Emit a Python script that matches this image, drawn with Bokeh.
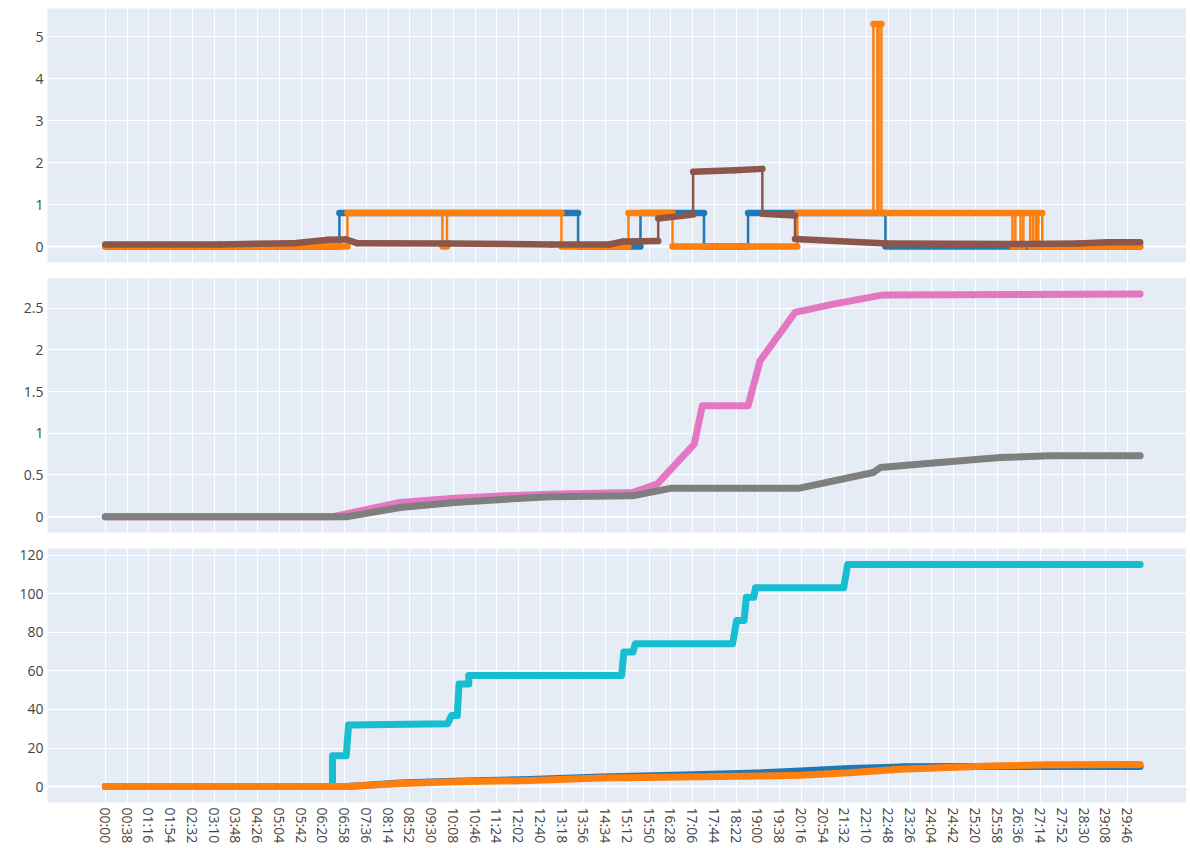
import math
from bokeh.plotting import figure
from bokeh.layouts import column
from bokeh.models import FixedTicker, Span, Range1d
from bokeh.embed import file_html
from bokeh.resources import INLINE

# ---------------- data ----------------
x_tick_labels = ["00:00", "00:38", "01:16", "01:54", "02:32", "03:10", "03:48", "04:26",
                 "05:04", "05:42", "06:20", "06:58", "07:36", "08:14", "08:52", "09:30",
                 "10:08", "10:46", "11:24", "12:02", "12:40", "13:18", "13:56", "14:34",
                 "15:12", "15:50", "16:28", "17:06", "17:44", "18:22", "19:00", "19:38",
                 "20:16", "20:54", "21:32", "22:10", "22:48", "23:26", "24:04", "24:42",
                 "25:20", "25:58", "26:36", "27:14", "27:52", "28:30", "29:08", "29:46"]

# panel 1 (seconds, value)
blue1_t = [0, 409, 409, 826, 826, 935, 935, 1046, 1046, 1123, 1123, 1363, 1363, 1808]
blue1_v = [0, 0, 0.8, 0.8, 0, 0, 0.8, 0.8, 0, 0, 0.8, 0.8, 0, 0]

orange1_t = [0, 423, 423, 589, 589, 597, 597, 797, 797, 914, 914, 991, 991, 1209, 1209,
             1342, 1342, 1349, 1349, 1351, 1351, 1356, 1356,
             1585, 1585, 1590, 1590, 1599, 1599, 1604, 1604, 1616, 1616, 1621, 1621,
             1626, 1626, 1630, 1630, 1637, 1637, 1808]
orange1_v = [0, 0, 0.8, 0.8, 0, 0, 0.8, 0.8, 0, 0, 0.8, 0.8, 0, 0, 0.8,
             0.8, 5.3, 5.3, 0.8, 0.8, 5.3, 5.3, 0.8,
             0.8, 0, 0, 0.8, 0.8, 0, 0, 0.8, 0.8, 0, 0, 0.8,
             0.8, 0, 0, 0.8, 0.8, 0, 0]

brown1_t = [0, 200, 330, 390, 420, 440, 600, 780, 880, 905, 966, 966, 1027, 1027, 1100,
            1148, 1148, 1205, 1205, 1366, 1600, 1700, 1751, 1808]
brown1_v = [0.05, 0.05, 0.08, 0.16, 0.17, 0.08, 0.07, 0.05, 0.05, 0.12, 0.13, 0.67, 0.76,
            1.78, 1.82, 1.85, 0.78, 0.74, 0.18, 0.07, 0.06, 0.07, 0.1, 0.1]

# panel 2
pink2_t = [0, 398, 515, 610, 700, 777, 921, 964, 1029, 1043, 1123, 1144, 1205, 1272, 1359, 1808]
pink2_v = [0, 0, 0.17, 0.22, 0.25, 0.27, 0.29, 0.39, 0.87, 1.33, 1.33, 1.87, 2.45, 2.55, 2.66, 2.67]

gray2_t = [0, 423, 515, 610, 700, 777, 921, 987, 1211, 1342, 1354, 1420, 1564, 1650, 1808]
gray2_v = [0, 0, 0.11, 0.17, 0.21, 0.24, 0.25, 0.34, 0.34, 0.53, 0.59, 0.63, 0.71, 0.73, 0.73]

# panel 3
cyan3_t = [0, 397, 397, 421, 425, 598, 605, 615, 618, 635, 635, 902, 906, 922, 926,
           1096, 1103, 1116, 1120, 1133, 1136, 1290, 1297, 1808]
cyan3_v = [0, 0, 16, 16, 32, 32.6, 36.9, 36.9, 53.3, 53.3, 57.7, 57.7, 69.8, 69.8, 74.2,
           74.2, 86.2, 86.2, 98.3, 98.3, 103.2, 103.2, 115.3, 115.3]

blue3_t = [0, 423, 515, 610, 742, 865, 1010, 1140, 1214, 1300, 1389, 1500, 1808]
blue3_v = [0, 0, 1.8, 2.8, 3.6, 5.0, 6.0, 7.0, 8.0, 9.4, 10.2, 10.4, 10.4]

orange3_t = [0, 423, 515, 610, 742, 865, 1010, 1140, 1214, 1300, 1389, 1546, 1650, 1808]
orange3_v = [0, 0, 1.6, 2.5, 3.1, 4.4, 5.0, 5.4, 5.9, 7.2, 9.0, 10.6, 11.3, 11.4]

y1_ticks = [0, 1, 2, 3, 4, 5]
y1_labels = ["0", "1", "2", "3", "4", "5"]
y2_ticks = [0, 0.5, 1, 1.5, 2, 2.5]
y2_labels = ["0", "0.5", "1", "1.5", "2", "2.5"]
y3_ticks = [0, 20, 40, 60, 80, 100, 120]
y3_labels = ["0", "20", "40", "60", "80", "100", "120"]

# ---------------- styling ----------------
BLUE, ORANGE, BROWN = "#1f77b4", "#ff7f0e", "#8c564b"
PINK, GRAY, CYAN = "#e377c2", "#7f7f7f", "#17becf"
FONT = "Open Sans"
TXT = "#444444"


def to_sec(s):
    m, sec = s.split(":")
    return int(m) * 60 + int(sec)


x_ticks = [to_sec(s) for s in x_tick_labels]


def make_fig(yr, yt, yl, show_x, top, bottom):
    p = figure(frame_width=1139, frame_height=254,
               x_range=Range1d(-101, 1889), y_range=Range1d(*yr),
               output_backend="svg", toolbar_location=None,
               min_border_left=47, min_border_right=0, min_border_top=top,
               min_border_bottom=bottom)
    p.background_fill_color = "#E5ECF6"
    p.border_fill_color = "white"
    p.outline_line_color = None
    p.xaxis.ticker = FixedTicker(ticks=x_ticks)
    p.xgrid.ticker = FixedTicker(ticks=x_ticks)
    p.yaxis.ticker = FixedTicker(ticks=yt)
    p.ygrid.ticker = FixedTicker(ticks=yt)
    p.yaxis.major_label_overrides = {float(t): l for t, l in zip(yt, yl)}
    for g in (p.xgrid, p.ygrid):
        g.grid_line_color = "white"
        g.grid_line_width = 1
    for ax in (p.xaxis, p.yaxis):
        ax.axis_line_color = None
        ax.major_tick_line_color = None
        ax.minor_tick_line_color = None
        ax.major_tick_out = 0
        ax.major_tick_in = 0
        ax.major_label_text_font = FONT
        ax.major_label_text_color = TXT
    p.yaxis.major_label_text_font_size = "14px"
    p.yaxis.major_label_standoff = 4
    if show_x:
        p.xaxis.major_label_overrides = {float(t): l for t, l in zip(x_ticks, x_tick_labels)}
        p.xaxis.major_label_orientation = -math.pi / 2
        p.xaxis.major_label_text_font_size = "14px"
        p.xaxis.major_label_standoff = 5
    else:
        p.xaxis.visible = False
    p.add_layout(Span(location=0, dimension="width", line_color="white",
                      line_width=2, level="underlay"))
    return p


def step_series(p, t, v, color):
    p.line(t, v, line_width=2.5, line_color=color, line_join="round")
    x0, y0, x1, y1 = [], [], [], []
    for i in range(len(t) - 1):
        if t[i + 1] > t[i]:
            x0.append(t[i]); y0.append(v[i]); x1.append(t[i + 1]); y1.append(v[i + 1])
    p.segment(x0, y0, x1, y1, line_width=6.5, line_color=color, line_cap="round")


p1 = make_fig((-0.38, 5.67), y1_ticks, y1_labels, False, 8, 16)
step_series(p1, blue1_t, blue1_v, BLUE)
step_series(p1, orange1_t, orange1_v, ORANGE)
step_series(p1, brown1_t, brown1_v, BROWN)

p2 = make_fig((-0.19, 2.857), y2_ticks, y2_labels, False, 0, 8)
p2.line(pink2_t, pink2_v, line_width=7, line_color=PINK, line_cap="round", line_join="round")
p2.line(gray2_t, gray2_v, line_width=7, line_color=GRAY, line_cap="round", line_join="round")

p3 = make_fig((-8.3, 123.6), y3_ticks, y3_labels, True, 8, 0)
p3.line(cyan3_t, cyan3_v, line_width=7, line_color=CYAN, line_cap="round", line_join="round")
p3.line(blue3_t, blue3_v, line_width=7, line_color=BLUE, line_cap="round", line_join="round")
p3.line(orange3_t, orange3_v, line_width=7, line_color=ORANGE, line_cap="round", line_join="round")

layout = column(p1, p2, p3, spacing=0)
open("out.html", "w").write(file_html(layout, INLINE))
